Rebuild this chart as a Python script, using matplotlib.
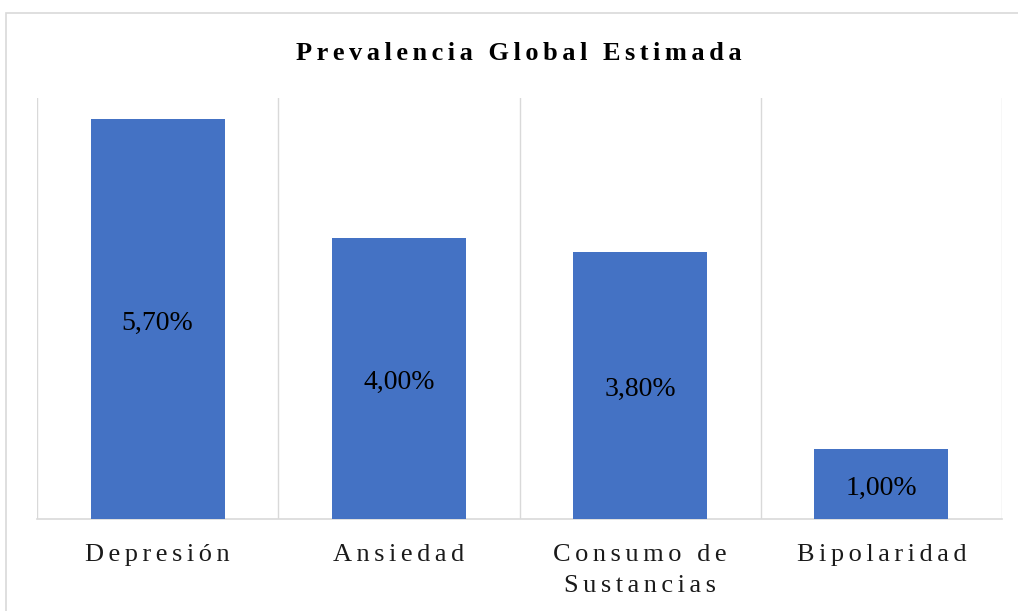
import matplotlib
matplotlib.use("Agg")
import matplotlib.pyplot as plt
from matplotlib.patches import Rectangle
from matplotlib.transforms import offset_copy

categories = ["Depresión", "Ansiedad", "Consumo de\nSustancias", "Bipolaridad"]
values = [5.70, 4.00, 3.80, 1.00]
value_labels = ["5,70%", "4,00%", "3,80%", "1,00%"]
title = "Prevalencia Global Estimada"

SERIF = ["Liberation Serif", "DejaVu Serif"]
BLUE = "#4472C4"
GRID = "#D9D9D9"


def spaced(s, sep="\u200a\u200a"):
    lines = []
    for line in s.split("\n"):
        words = line.split(" ")
        lines.append((sep + " " + sep).join(sep.join(w) for w in words))
    return "\n".join(lines)


W, H = 1018, 611
fig = plt.figure(figsize=(W / 100, H / 100), dpi=100)
fig.patch.set_facecolor("white")

# outer chart border
fig.patches.append(Rectangle((6 / W, -0.05), 1.2, (H - 13) / H + 0.05,
                             transform=fig.transFigure, fill=False,
                             edgecolor=GRID, linewidth=1.2, zorder=0))

ax = fig.add_axes([37 / W, (H - 519) / H, (1002 - 37) / W, (519 - 98) / H])
x = list(range(len(categories)))
ax.bar(x, values, width=0.556, color=BLUE, zorder=3)
ax.set_xlim(-0.5, len(categories) - 0.5)
ax.set_ylim(0, 6)

lab_tr = offset_copy(ax.transData, fig=fig, x=0, y=-4, units="dots")
for xi, v, lab in zip(x, values, value_labels):
    ax.text(xi, v / 2, lab, ha="center", va="center", fontsize=20,
            family=SERIF, color="#000000", zorder=4, transform=lab_tr)

for b in [i - 0.5 for i in range(len(categories) + 1)]:
    ax.axvline(b, color=GRID, linewidth=1.0, zorder=1)

for s in ["top", "left", "right"]:
    ax.spines[s].set_visible(False)
ax.spines["bottom"].set_color(GRID)
ax.spines["bottom"].set_linewidth(1.2)
ax.set_yticks([])
ax.set_xticks(x)
ax.set_xticklabels([spaced(c) for c in categories], family=SERIF,
                   fontsize=19, color="#1a1a1a", linespacing=1.5)
ax.tick_params(axis="x", length=0, pad=18)

fig.text(519 / W, 1 - 54 / H, spaced(title), ha="center", va="center",
         fontsize=19, fontweight="bold", family=SERIF, color="#000000")

fig.savefig("out.png", dpi=100, facecolor="white")
